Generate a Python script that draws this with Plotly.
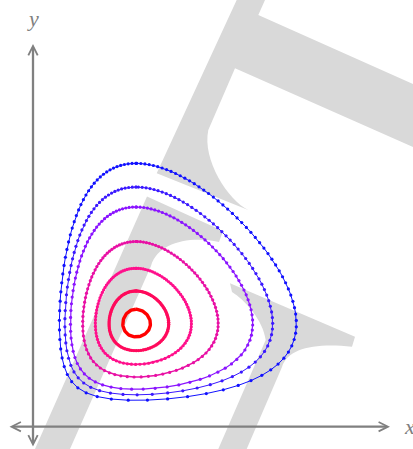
import numpy as np
import plotly.graph_objects as go

# ---- data ----
# y value where each closed orbit crosses x = 1 at its top
orbit_top_y = [2.557, 2.327, 2.133, 1.798, 1.538, 1.3175, 1.140]
orbit_colors = ["#1010ff", "#3a18ff", "#8a14ff", "#e810a4", "#ff108c", "#ff0a5c", "#ff0000"]
orbit_line_widths = [1.0, 1.0, 1.2, 1.5, 1.9, 2.3, 3.4]
orbit_marker_sizes = [3.2, 3.2, 3.2, 3.2, 3.2, 3.4, 0]
sample_dt = 0.0637          # sampling step of the trajectories
equilibrium = (1.0, 1.0)

W, H = 413, 449
X0_PX, Y0_PX, SCALE = 33.0, 426.7, 103.0   # origin pixel and px per unit

def rhs(x, y):
    return np.sqrt(x) * (1.0 - y) / y, (x - 1.0) / np.sqrt(x)

def orbit(y_top, dt, nsub=10):
    x, y = equilibrium[0], y_top
    xs, ys = [x], [y]
    prev = np.arctan2(y - equilibrium[1], x - equilibrium[0])
    total = 0.0
    h = dt / nsub
    while total < 2 * np.pi:
        for _ in range(nsub):
            k1 = rhs(x, y)
            k2 = rhs(x + h / 2 * k1[0], y + h / 2 * k1[1])
            k3 = rhs(x + h / 2 * k2[0], y + h / 2 * k2[1])
            k4 = rhs(x + h * k3[0], y + h * k3[1])
            x += h / 6 * (k1[0] + 2 * k2[0] + 2 * k3[0] + k4[0])
            y += h / 6 * (k1[1] + 2 * k2[1] + 2 * k3[1] + k4[1])
        a = np.arctan2(y - equilibrium[1], x - equilibrium[0])
        d = a - prev
        if d < -np.pi:
            d += 2 * np.pi
        if d > np.pi:
            d -= 2 * np.pi
        total += d
        prev = a
        if total < 2 * np.pi:
            xs.append(x)
            ys.append(y)
    xs.append(xs[0])
    ys.append(ys[0])
    return np.array(xs), np.array(ys)

fig = go.Figure()
for yt, col, lw, ms in zip(orbit_top_y, orbit_colors, orbit_line_widths, orbit_marker_sizes):
    xs, ys = orbit(yt, sample_dt)
    fig.add_trace(go.Scatter(
        x=xs, y=ys,
        mode="lines+markers" if ms > 0 else "lines",
        line=dict(color=col, width=lw),
        marker=dict(color=col, size=ms, line=dict(width=0)),
        hoverinfo="skip",
    ))

# ---- watermark (decorative gray shapes, pixel geometry) ----
def P(px, py):
    return f"{px / W:.5f},{1 - py / H:.5f}"

def path(cmds):
    out = []
    for c in cmds:
        if c[0] in "ML":
            out.append(c[0] + P(*c[1]))
        elif c[0] == "C":
            out.append("C" + " ".join(P(*p) for p in c[1:]))
        elif c[0] == "Z":
            out.append("Z")
    return " ".join(out)

GRAY = "#d9d9d9"
wm_T = path([("M", (236.7, 0)), ("L", (265, 0)), ("L", (258.3, 15)), ("L", (413, 84)),
             ("L", (413, 147)), ("L", (235, 68.3)), ("L", (208.3, 130)),
             ("C", (202, 160), (228, 200), (248.3, 210)), ("L", (156.7, 173.3)), ("Z",)])
wm_F1 = path([("M", (147, 196.5)), ("L", (223, 231)), ("L", (219, 242)),
              ("C", (190, 236), (158, 242), (151, 266)), ("L", (70, 449)), ("L", (35, 449)), ("Z",)])
wm_F2 = path([("M", (218.3, 449)), ("L", (265.7, 340)),
              ("C", (263, 320), (245, 300), (232, 292)), ("L", (230, 283.3)), ("L", (355, 336.7)),
              ("L", (352, 346.7)), ("C", (315, 343), (288, 348), (282, 367)),
              ("L", (246.7, 449)), ("Z",)])
shapes = [dict(type="path", path=p, xref="paper", yref="paper", fillcolor=GRAY,
               line=dict(width=0), layer="below") for p in (wm_T, wm_F1, wm_F2)]

# ---- axes with arrows ----
AX_COLOR = "#808080"
def px2x(px):
    return (px - X0_PX) / SCALE
def py2y(py):
    return (Y0_PX - py) / SCALE

annotations = [
    dict(x=px2x(390), y=0, ax=px2x(8), ay=0, xref="x", yref="y", axref="x", ayref="y",
         showarrow=True, arrowhead=5, startarrowhead=5, arrowside="end+start",
         arrowsize=0.8, startarrowsize=0.8, arrowwidth=2.3, arrowcolor=AX_COLOR, text=""),
    dict(x=0, y=py2y(44), ax=0, ay=py2y(448), xref="x", yref="y", axref="x", ayref="y",
         showarrow=True, arrowhead=5, startarrowhead=5, arrowside="end+start",
         arrowsize=0.8, startarrowsize=0.8, arrowwidth=2.3, arrowcolor=AX_COLOR, text=""),
    dict(x=px2x(402), y=0, xref="x", yref="y", text="<i>x</i>", showarrow=False,
         xanchor="left", yanchor="middle",
         font=dict(family="Liberation Serif", size=22, color=AX_COLOR)),
    dict(x=0, y=py2y(18), xref="x", yref="y", text="<i>y</i>", showarrow=False,
         xanchor="center", yanchor="middle",
         font=dict(family="Liberation Serif", size=22, color=AX_COLOR)),
]

fig.update_layout(
    width=W, height=H, margin=dict(l=0, r=0, t=0, b=0),
    paper_bgcolor="white", plot_bgcolor="white", showlegend=False,
    xaxis=dict(range=[px2x(0), px2x(W)], visible=False, fixedrange=True),
    yaxis=dict(range=[py2y(H), py2y(0)], visible=False, fixedrange=True),
    shapes=shapes, annotations=annotations,
)
fig.write_html("out.html", config={"displayModeBar": False},
               post_script="document.body.style.margin='0px';document.body.style.overflow='hidden';")
